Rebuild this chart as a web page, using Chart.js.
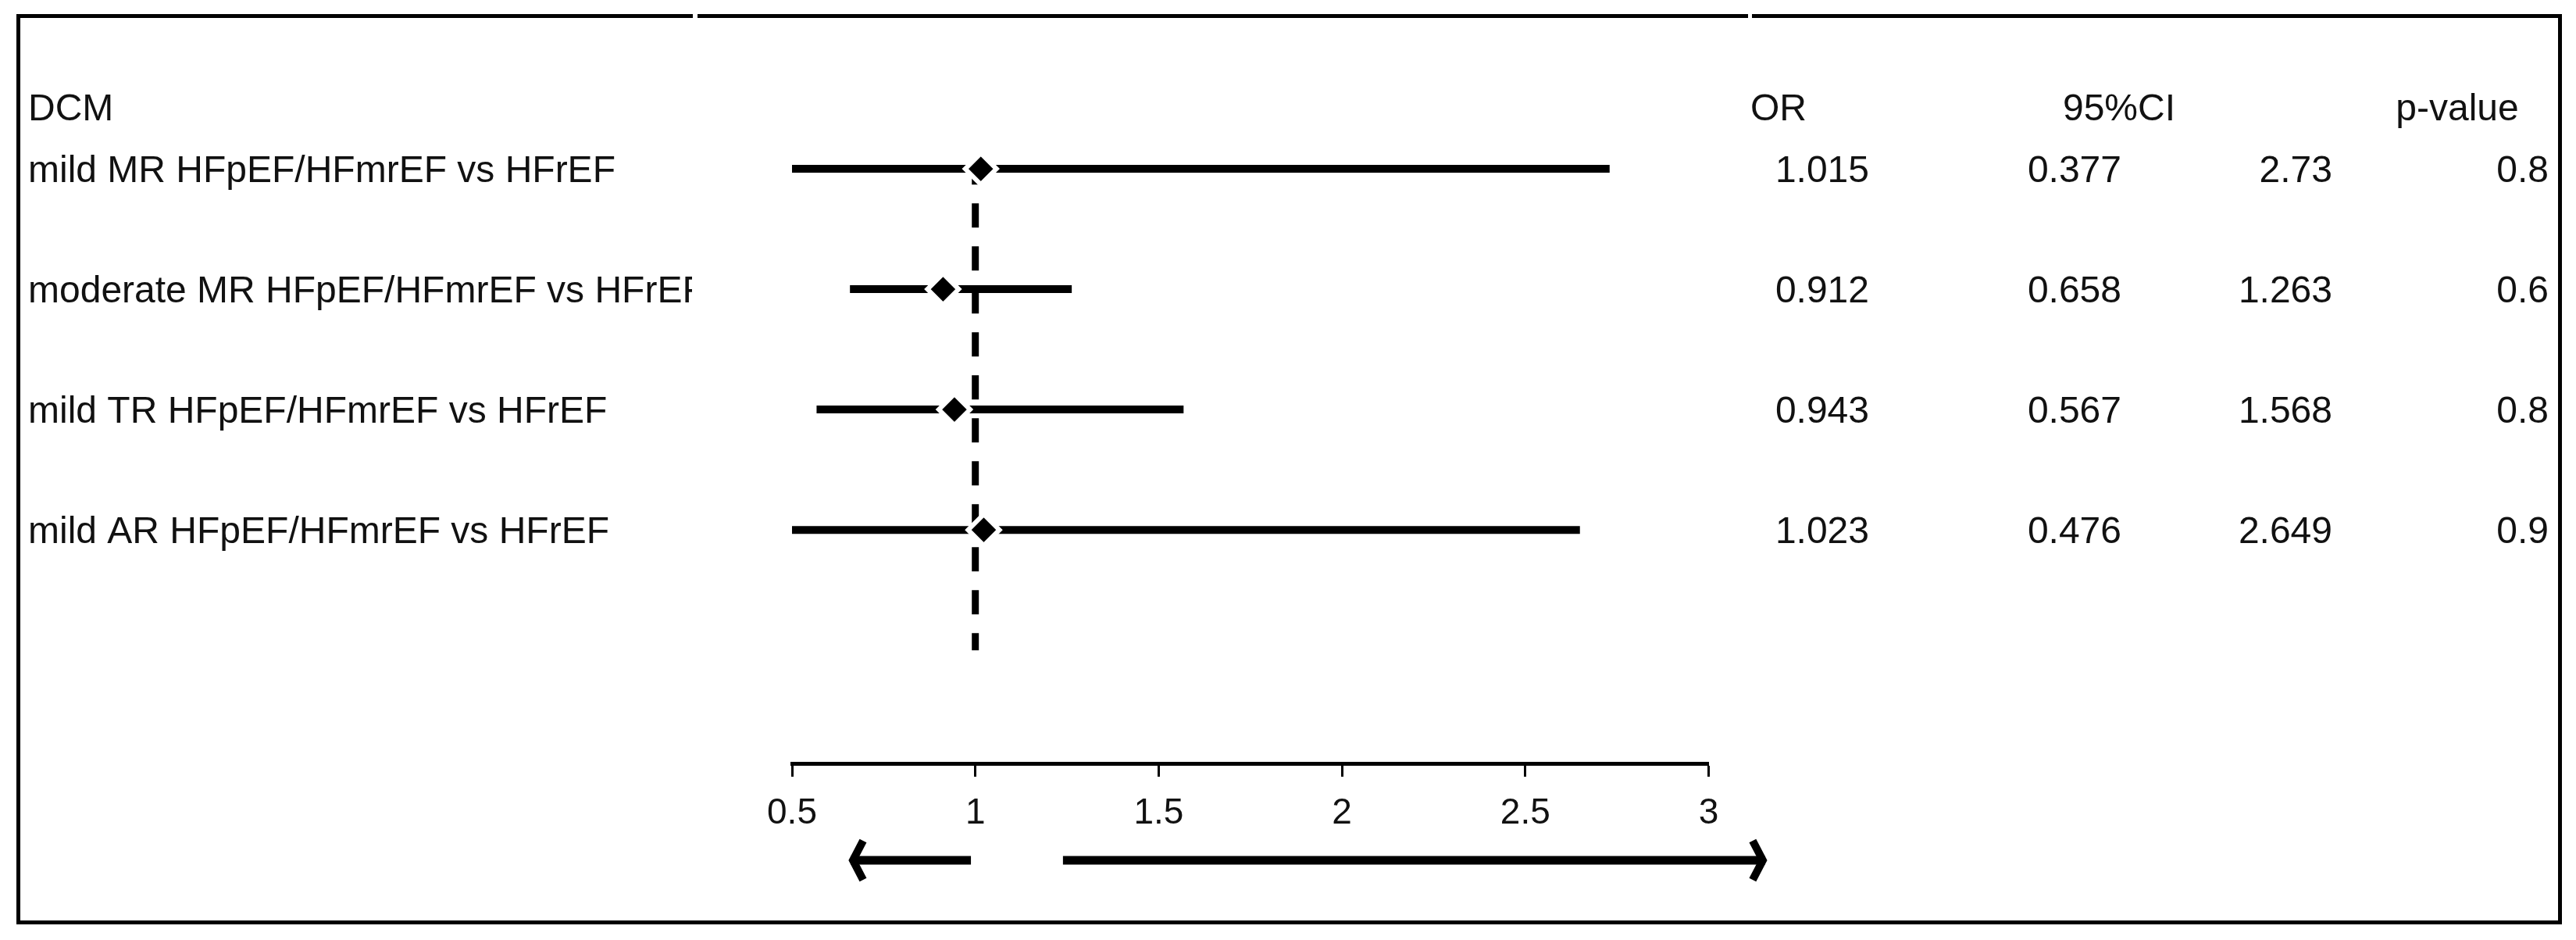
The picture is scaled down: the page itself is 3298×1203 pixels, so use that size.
<!DOCTYPE html>
<html>
<head>
<meta charset="utf-8">
<script src="https://cdn.jsdelivr.net/npm/chart.js@4.4.1/dist/chart.umd.min.js"></script>
<style>
  html, body { margin: 0; padding: 0; background: #fff; }
  #wrap { width: 3298px; height: 1203px; position: relative; }
</style>
</head>
<body>
<div id="wrap"><canvas id="chart"></canvas></div>
<script>
// forest plot data
const groupTitle = 'DCM';
const colHeaders = ['OR', '95%CI', 'p-value'];
const rowLabels = [
  'mild MR HFpEF/HFmrEF vs HFrEF',
  'moderate MR HFpEF/HFmrEF vs HFrEF',
  'mild TR HFpEF/HFmrEF vs HFrEF',
  'mild AR HFpEF/HFmrEF vs HFrEF'
];
const oddsRatio = [1.015, 0.912, 0.943, 1.023];
const ciLow = [0.377, 0.658, 0.567, 0.476];
const ciHigh = [2.73, 1.263, 1.568, 2.649];
const pValues = [0.8, 0.6, 0.8, 0.9];
const xTicks = [0.5, 1, 1.5, 2, 2.5, 3];
const refLineX = 1;
const refLineRows = [0.93, 5.0];
const arrowLeft = [0.988, 0.647];
const arrowRight = [1.239, 3.167];

const FONT = '"Liberation Sans", Arial, sans-serif';
const INK = '#111';

const datasets = [];
datasets.push({
  label: 'OR',
  data: oddsRatio.map((v, i) => ({ x: v, y: i + 1 })),
  showLine: false,
  pointStyle: 'rectRot',
  pointRadius: 20,
  pointBackgroundColor: '#000',
  pointBorderColor: '#fff',
  pointBorderWidth: 6,
  order: 0
});
ciLow.forEach((lo, i) => {
  datasets.push({
    label: 'ci' + i,
    data: [{ x: lo, y: i + 1 }, { x: ciHigh[i], y: i + 1 }],
    borderColor: '#000',
    borderWidth: 10,
    borderCapStyle: 'butt',
    pointRadius: 0,
    order: 1
  });
});
datasets.push({
  label: 'ref',
  data: [{ x: refLineX, y: refLineRows[0] }, { x: refLineX, y: refLineRows[1] }],
  borderColor: '#000',
  borderWidth: 9,
  borderDash: [31, 24],
  borderCapStyle: 'butt',
  pointRadius: 0,
  order: 2
});

function drawArrow(ctx, xs, pair, y) {
  const from = xs.getPixelForValue(pair[0]);
  const tip = xs.getPixelForValue(pair[1]);
  const dir = tip > from ? 1 : -1;
  ctx.strokeStyle = '#000';
  ctx.lineCap = 'butt';
  ctx.lineWidth = 11;
  ctx.beginPath();
  ctx.moveTo(from, y);
  ctx.lineTo(tip - dir * 6, y);
  ctx.stroke();
  ctx.lineWidth = 10;
  ctx.lineJoin = 'miter';
  ctx.beginPath();
  ctx.moveTo(tip - dir * 22, y - 25);
  ctx.lineTo(tip - dir * 9, y);
  ctx.lineTo(tip - dir * 22, y + 25);
  ctx.stroke();
}

const decor = {
  id: 'decor',
  beforeDraw(c) {
    const ctx = c.ctx;
    ctx.save();
    ctx.fillStyle = '#fff';
    ctx.fillRect(0, 0, c.width, c.height);
    ctx.restore();
  },
  afterDraw(c) {
    const ctx = c.ctx, xs = c.scales.x, ys = c.scales.y;
    ctx.save();
    ctx.fillStyle = INK;
    ctx.font = '48px ' + FONT;
    ctx.textBaseline = 'middle';

    // header row
    const hy = 141;
    ctx.textAlign = 'left';
    ctx.fillText(groupTitle, 36, hy);
    ctx.textAlign = 'center';
    ctx.fillText(colHeaders[0], 2277, hy);
    ctx.fillText(colHeaders[1], 2713, hy);
    ctx.fillText(colHeaders[2], 3146, hy);

    rowLabels.forEach((lab, i) => {
      const y = ys.getPixelForValue(i + 1) + 4;
      ctx.save();
      ctx.beginPath();
      ctx.rect(0, 0, 886, c.height);
      ctx.clip();
      ctx.textAlign = 'left';
      ctx.fillText(lab, 36, y);
      ctx.restore();
      ctx.textAlign = 'right';
      ctx.fillText(String(oddsRatio[i]), 2393, y);
      ctx.fillText(String(ciLow[i]), 2716, y);
      ctx.fillText(String(ciHigh[i]), 2986, y);
      ctx.fillText(String(pValues[i]), 3263, y);
    });

    // direction arrows under the axis
    const ay = c.chartArea.bottom + 124;
    drawArrow(ctx, xs, arrowLeft, ay);
    drawArrow(ctx, xs, arrowRight, ay);

    // frame with the small panel gaps on top
    ctx.fillStyle = '#000';
    ctx.fillRect(21, 18, 866, 5);
    ctx.fillRect(893, 18, 1345, 5);
    ctx.fillRect(2243, 18, 1037, 5);
    ctx.fillRect(21, 18, 5, 1165);
    ctx.fillRect(3275, 18, 5, 1165);
    ctx.fillRect(21, 1178, 3259, 5);
    ctx.restore();
  }
};

new Chart(document.getElementById('chart'), {
  type: 'line',
  data: { datasets: datasets },
  options: {
    responsive: true,
    maintainAspectRatio: false,
    animation: false,
    events: [],
    layout: { padding: { left: 1014, right: 1110.5, top: 139, bottom: 0 } },
    plugins: {
      legend: { display: false },
      tooltip: { enabled: false }
    },
    scales: {
      x: {
        type: 'linear',
        min: 0.5,
        max: 3,
        afterBuildTicks: s => { s.ticks = xTicks.map(v => ({ value: v })); },
        afterFit: s => { s.height = 226; },
        grid: {
          drawOnChartArea: false,
          drawTicks: true,
          tickLength: 17,
          tickWidth: 3,
          tickColor: '#000'
        },
        border: { display: true, color: '#000', width: 5 },
        ticks: {
          padding: 20,
          color: INK,
          font: { size: 46, family: FONT },
          maxRotation: 0,
          autoSkip: false,
          callback: v => String(v)
        }
      },
      y: {
        type: 'linear',
        display: false,
        reverse: true,
        min: 0.5,
        max: 5.94
      }
    }
  },
  plugins: [decor]
});
</script>
</body>
</html>
